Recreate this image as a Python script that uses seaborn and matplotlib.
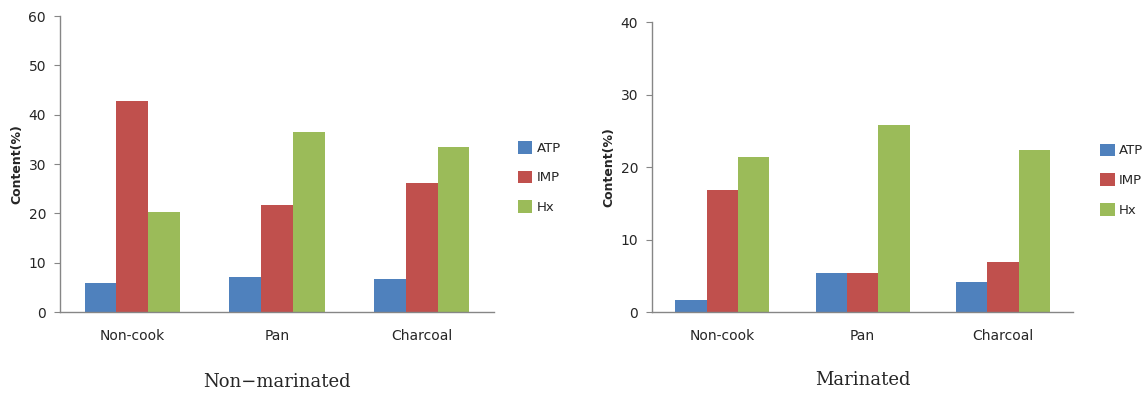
import pandas as pd
import matplotlib.pyplot as plt
import seaborn as sns

methods = ['Non-cook', 'Pan', 'Charcoal']
compounds = ['ATP', 'IMP', 'Hx']
colors = ['#4F81BD', '#C0504D', '#9BBB59']

non_atp = [5.8, 7.1, 6.8]
non_imp = [42.8, 21.8, 26.1]
non_hx = [20.3, 36.6, 33.5]

mar_atp = [1.7, 5.4, 4.1]
mar_imp = [16.9, 5.4, 6.9]
mar_hx = [21.4, 25.8, 22.3]


def long_df(atp, imp, hx):
    rows = []
    for vals, c in zip([atp, imp, hx], compounds):
        for m, v in zip(methods, vals):
            rows.append({'Method': m, 'Compound': c, 'Content': v})
    return pd.DataFrame(rows)


sns.set_style('white')
fig = plt.figure(figsize=(11.44, 3.94), dpi=100)

panels = [
    (long_df(non_atp, non_imp, non_hx), [0.0524, 0.208, 0.3795, 0.751], 60, 0.66, 1.055, 'Non\u2212marinated'),
    (long_df(mar_atp, mar_imp, mar_hx), [0.570, 0.208, 0.368, 0.736], 40, 0.67, 1.065, 'Marinated'),
]

for df, pos, ymax, w, lx, title in panels:
    ax = fig.add_axes(pos)
    sns.barplot(data=df, x='Method', y='Content', hue='Compound',
                palette=colors, width=w, ax=ax, saturation=1, linewidth=0)
    ax.set_xlim(-0.5, 2.5)
    ax.set_ylim(0, ymax)
    ax.set_yticks(range(0, ymax + 1, 10))
    ax.set_xlabel('')
    ax.set_ylabel('Content(%)', fontsize=9, fontweight='bold', labelpad=4)
    for s in ['top', 'right']:
        ax.spines[s].set_visible(False)
    for s in ['left', 'bottom']:
        ax.spines[s].set_color('#868686')
        ax.spines[s].set_linewidth(1)
    ax.tick_params(axis='y', length=4, color='#868686', labelsize=10, pad=6, left=True)
    ax.tick_params(axis='x', length=0, labelsize=10, pad=12)
    ax.legend(loc='center left', bbox_to_anchor=(lx, 0.455), frameon=False,
              fontsize=9.5, handlelength=1.1, handleheight=1.1, borderaxespad=0,
              borderpad=0, labelspacing=1.2, handletextpad=0.3)
    ax.text(0.5, -0.235, title, transform=ax.transAxes, ha='center', va='center',
            fontsize=13, family='DejaVu Serif')

fig.savefig('out.png', dpi=100)
